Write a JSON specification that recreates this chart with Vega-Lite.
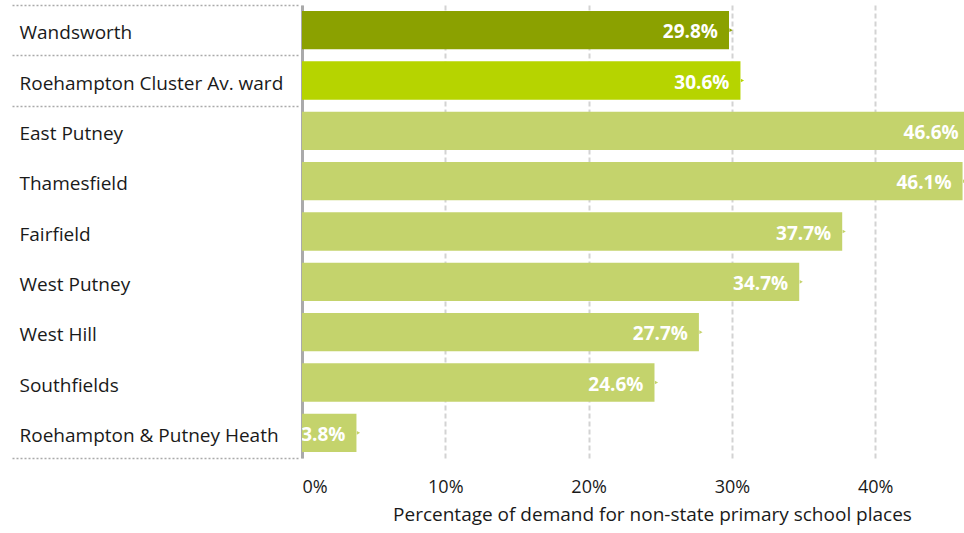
{
  "$schema": "https://vega.github.io/schema/vega-lite/v6.json",
  "width": 662,
  "height": 453,
  "autosize": {"type": "none"},
  "padding": {"left": 302, "top": 5, "right": 0, "bottom": 75},
  "config": {"view": {"stroke": null}, "font": "Open Sans"},
  "data": {
    "values": [
      {"ward": "Wandsworth", "group": "Borough", "pct": 0.298},
      {"ward": "Roehampton Cluster Av. ward", "group": "Cluster", "pct": 0.306},
      {"ward": "East Putney", "group": "Ward", "pct": 0.466},
      {"ward": "Thamesfield", "group": "Ward", "pct": 0.461},
      {"ward": "Fairfield", "group": "Ward", "pct": 0.377},
      {"ward": "West Putney", "group": "Ward", "pct": 0.347},
      {"ward": "West Hill", "group": "Ward", "pct": 0.277},
      {"ward": "Southfields", "group": "Ward", "pct": 0.246},
      {"ward": "Roehampton & Putney Heath", "group": "Ward", "pct": 0.038}
    ]
  },
  "layer": [
    {
      "mark": {"type": "bar", "clip": true, "height": {"band": 0.76}},
      "encoding": {
        "y": {
          "field": "ward", "type": "nominal", "sort": null,
          "scale": {"paddingInner": 0, "paddingOuter": 0},
          "axis": {
            "orient": "left", "title": null, "ticks": false,
            "domain": true, "domainColor": "#aaaaaa", "domainWidth": 3,
            "labelAlign": "left", "labelPadding": 283, "labelFontSize": 19,
            "labelColor": "#1a1a1a", "labelLimit": 0, "labelBaseline": "middle", "labelOffset": 3
          }
        },
        "x": {
          "field": "pct", "type": "quantitative",
          "scale": {"domain": [0, 0.462], "nice": false, "zero": true},
          "axis": {
            "values": [0, 0.1, 0.2, 0.3, 0.4], "format": ".0%",
            "domain": false, "ticks": false,
            "grid": true, "gridColor": "#d3d3d3", "gridDash": [5, 3], "gridWidth": 2,
            "labelFontSize": 18, "labelColor": "#1a1a1a", "labelPadding": 20, "labelFlush": true,
            "title": "Percentage of demand for non-state primary school places",
            "titleFontSize": 19, "titleFontWeight": "normal", "titleColor": "#1a1a1a",
            "titlePadding": 9, "titleX": 350
          }
        },
        "color": {
          "field": "group", "type": "nominal", "legend": null,
          "scale": {"domain": ["Borough", "Cluster", "Ward"], "range": ["#8ba100", "#b6d400", "#c4d36c"]}
        }
      }
    },
    {
      "mark": {"type": "point", "shape": "triangle-right", "filled": true, "size": 14, "xOffset": 2, "opacity": 1, "clip": true},
      "encoding": {
        "y": {"field": "ward", "type": "nominal", "sort": null, "axis": null},
        "x": {"field": "pct", "type": "quantitative"},
        "color": {"field": "group", "type": "nominal", "legend": null}
      }
    },
    {
      "mark": {"type": "text", "align": "right", "dx": -11, "dy": 2, "baseline": "middle", "fontWeight": "bold", "fontSize": 19, "color": "white", "clip": true},
      "encoding": {
        "y": {
          "field": "ward", "type": "nominal", "sort": null,
          "axis": {
            "orient": "left", "title": null, "labels": false, "domain": false,
            "values": ["Wandsworth", "Roehampton Cluster Av. ward", "Roehampton & Putney Heath"],
            "ticks": true, "tickBand": "extent", "tickSize": 288, "tickColor": "#aaaaaa",
            "tickDash": [2, 2], "tickWidth": 1.5, "offset": 4, "grid": false
          }
        },
        "x": {"field": "pct", "type": "quantitative"},
        "text": {"field": "pct", "type": "quantitative", "format": ".1%"}
      }
    }
  ],
  "resolve": {"axis": {"y": "independent"}}
}
